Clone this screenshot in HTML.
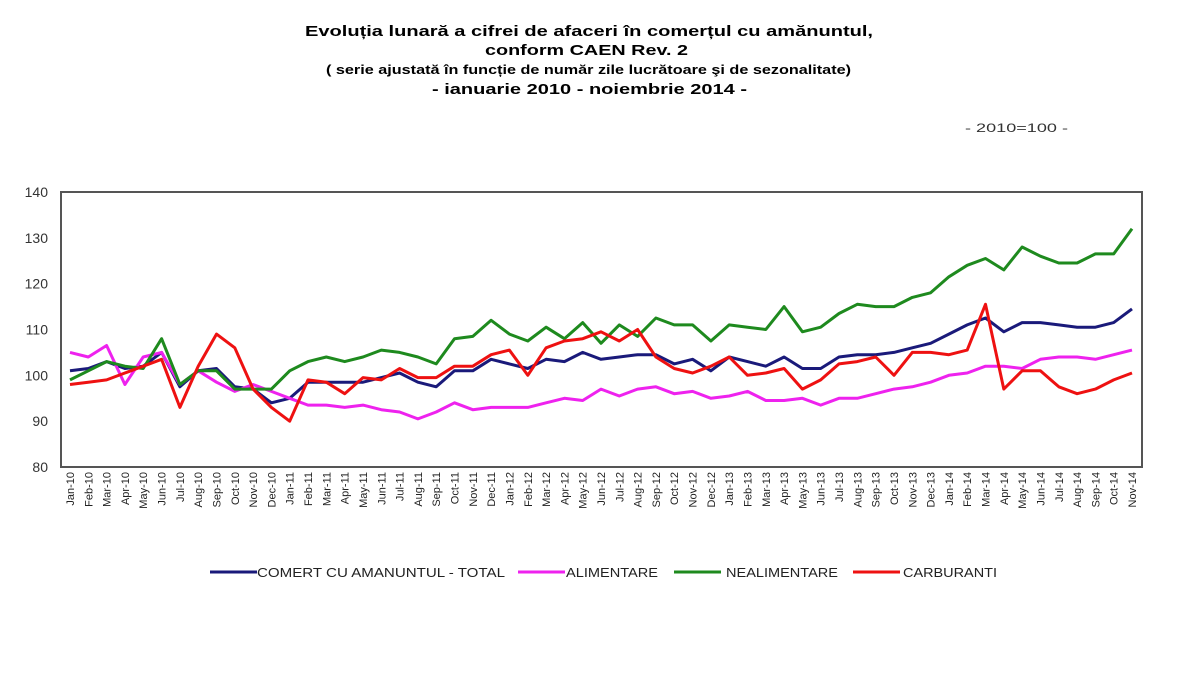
<!DOCTYPE html>
<html><head><meta charset="utf-8"><style>
body{margin:0;background:#fff;width:1200px;height:675px;overflow:hidden;font-family:"Liberation Sans",sans-serif}
</style></head><body>
<svg id="chart" width="1200" height="675" xmlns="http://www.w3.org/2000/svg" font-family="Liberation Sans, sans-serif">
<g font-weight="bold" fill="#000">
<text x="305" y="36" font-size="15" textLength="568" lengthAdjust="spacingAndGlyphs">Evoluția lunară a cifrei de afaceri în  comerțul cu amănuntul,</text>
<text x="485" y="55" font-size="15" textLength="203" lengthAdjust="spacingAndGlyphs">conform  CAEN Rev. 2</text>
<text x="326" y="74" font-size="13" textLength="525" lengthAdjust="spacingAndGlyphs">( serie ajustată în funcție de număr zile lucrătoare şi de sezonalitate)</text>
<text x="432" y="94" font-size="15" textLength="315" lengthAdjust="spacingAndGlyphs">- ianuarie 2010 -  noiembrie 2014  -</text>
</g>
<text x="965" y="132" font-size="12" fill="#333" textLength="103" lengthAdjust="spacingAndGlyphs">- 2010=100 -</text>
<rect x="61" y="192" width="1081" height="275" fill="none" stroke="#555" stroke-width="2"/>
<g id="yaxis"></g><g id="xaxis"></g><g id="series"></g><g id="legend"></g>
</svg>
<script>
const months=["Jan","Feb","Mar","Apr","May","Jun","Jul","Aug","Sep","Oct","Nov","Dec"];
const categories=[];
for(let y=10;y<=14;y++)for(let m=0;m<12;m++){if(y===14&&m>10)break;categories.push(months[m]+"-"+y);}
const yTicks=[80,90,100,110,120,130,140];
const totalValues=[101,101.5,103,101.5,102,105,97.5,101,101.5,97.5,97,94,
95,98.5,98.5,98.5,98.5,99.5,100.5,98.5,97.5,101,101,103.5,
102.5,101.5,103.5,103,105,103.5,104,104.5,104.5,102.5,103.5,101,
104,103,102,104,101.5,101.5,104,104.5,104.5,105,106,107,
109,111,112.5,109.5,111.5,111.5,111,110.5,110.5,111.5,114.5];
const alimValues=[105,104,106.5,98,104,105,98,101,98.5,96.5,98,96.5,
95,93.5,93.5,93,93.5,92.5,92,90.5,92,94,92.5,93,
93,93,94,95,94.5,97,95.5,97,97.5,96,96.5,95,
95.5,96.5,94.5,94.5,95,93.5,95,95,96,97,97.5,98.5,
100,100.5,102,102,101.5,103.5,104,104,103.5,104.5,105.5];
const nealimValues=[99,101,103,102,101.5,108,98,101,101,97,97,97,
101,103,104,103,104,105.5,105,104,102.5,108,108.5,112,
109,107.5,110.5,108,111.5,107,111,108.5,112.5,111,111,107.5,
111,110.5,110,115,109.5,110.5,113.5,115.5,115,115,117,118,
121.5,124,125.5,123,128,126,124.5,124.5,126.5,126.5,132];
const carbValues=[98,98.5,99,100.5,102,103.5,93,102,109,106,97,93,
90,99,98.5,96,99.5,99,101.5,99.5,99.5,102,102,104.5,
105.5,100,106,107.5,108,109.5,107.5,110,104,101.5,100.5,102,
104,100,100.5,101.5,97,99,102.5,103,104,100,105,105,
104.5,105.5,115.5,97,101,101,97.5,96,97,99,100.5];
const seriesNames=["COMERT CU AMANUNTUL - TOTAL","ALIMENTARE","NEALIMENTARE","CARBURANTI"];
const seriesColors=["#1a1a7a","#ee22ee","#1e8a1e","#ee1111"];
const seriesData=[totalValues,alimValues,nealimValues,carbValues];
const NS="http://www.w3.org/2000/svg";
const X0=70,X1=1132,Y0=467,Y1=192;
function xs(i){return X0+(X1-X0)*i/(categories.length-1);}
function ys(v){return Y0-(v-80)/60*(Y0-Y1);}
function mk(tag,attrs,parent){const e=document.createElementNS(NS,tag);for(const k in attrs)e.setAttribute(k,attrs[k]);parent.appendChild(e);return e;}
const ya=document.getElementById('yaxis');
yTicks.forEach(t=>{const e=mk('text',{x:48,y:ys(t)+5,'font-size':14,'text-anchor':'end',fill:'#333'},ya);e.textContent=t;

});
const xa=document.getElementById('xaxis');
categories.forEach((c,i)=>{const x=xs(i)+4;const e=mk('text',{x:x,y:472,'font-size':11,'text-anchor':'end',fill:'#222',transform:`rotate(-90 ${x} 472)`},xa);e.textContent=c;

});
const sg=document.getElementById('series');
seriesData.forEach((d,s)=>{const pts=d.map((v,i)=>xs(i).toFixed(1)+","+ys(v).toFixed(1)).join(" ");
const p=mk('polyline',{points:pts,fill:'none',stroke:seriesColors[s],'stroke-width':3,'stroke-linejoin':'round'},sg);

});
const lg=document.getElementById('legend');
const lx=[210,518,674,853],tx=[257,566,726,903],tl=[248,92,112,94];
seriesNames.forEach((n,s)=>{const g=mk('g',{},lg);


mk('line',{x1:lx[s],y1:572,x2:lx[s]+47,y2:572,stroke:seriesColors[s],'stroke-width':3},g);
const t=mk('text',{x:tx[s],y:577,'font-size':13,fill:'#222',textLength:tl[s],lengthAdjust:'spacingAndGlyphs'},g);t.textContent=n;});
</script>
</body></html>
